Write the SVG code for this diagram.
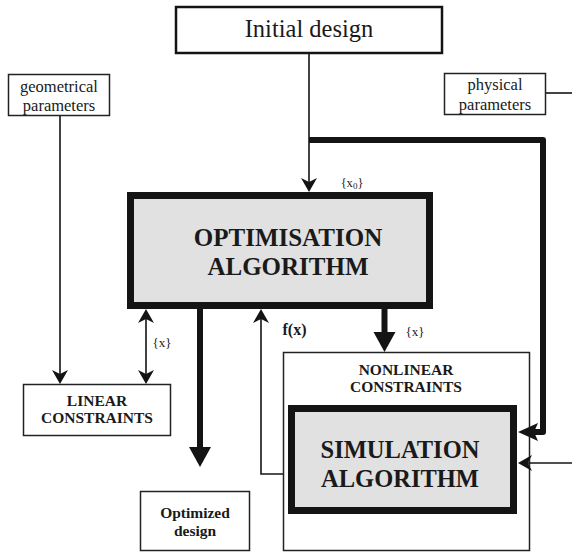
<svg xmlns="http://www.w3.org/2000/svg" width="572" height="552" viewBox="0 0 572 552" font-family="'Liberation Serif', 'DejaVu Serif', serif">
<style>
  .box{fill:#fff;stroke:#222;stroke-width:1.5}
  .big{fill:#e1e1e1;stroke:#141414;stroke-width:7}
  .thin{fill:none;stroke:#141414;stroke-width:1.6}
  .thick{fill:none;stroke:#141414;stroke-width:6;stroke-linejoin:round}
  text{font-family:'Liberation Serif','DejaVu Serif',serif;fill:#1a1a1a;text-anchor:middle}
  .b{font-weight:bold}
</style>
<defs>
  <marker id="ah" markerUnits="userSpaceOnUse" orient="auto-start-reverse" overflow="visible" markerWidth="20" markerHeight="20" refX="0" refY="0">
    <path d="M-4,-8 L10,0 L-4,8 L0,0 Z" fill="#141414"/>
  </marker>
  <marker id="tri" markerUnits="userSpaceOnUse" orient="auto" overflow="visible" markerWidth="30" markerHeight="30" refX="0" refY="0">
    <path d="M0,-11 L20,0 L0,11 Z" fill="#141414"/>
  </marker>
  <marker id="barb" markerUnits="userSpaceOnUse" orient="auto" overflow="visible" markerWidth="30" markerHeight="30" refX="0" refY="0">
    <path d="M-4,-9 L16,0 L-4,9 L0,0 Z" fill="#141414"/>
  </marker>
</defs>

<g id="initial-design">
  <rect x="176" y="7" width="266" height="46" fill="#fff" stroke="#141414" stroke-width="2.5"/>
  <text x="309" y="37" font-size="24.5">Initial design</text>
</g>

<g id="geometrical-parameters">
  <rect class="box" x="8.5" y="74.5" width="101" height="41"/>
  <text x="59" y="92" font-size="16.5">geometrical</text>
  <text x="59" y="111" font-size="16.5">parameters</text>
</g>

<g id="physical-parameters">
  <rect class="box" x="444.5" y="73.5" width="101" height="41"/>
  <text x="495" y="90" font-size="16.5">physical</text>
  <text x="495" y="110" font-size="16.5">parameters</text>
</g>

<g id="optimisation-algorithm">
  <rect class="big" x="130.5" y="195.5" width="299" height="110"/>
  <text class="b" x="288" y="246" font-size="25">OPTIMISATION</text>
  <text class="b" x="288" y="275" font-size="25">ALGORITHM</text>
</g>

<g id="labels">
  <text x="352" y="187" font-size="12.5">{x<tspan font-size="9" dy="2">0</tspan><tspan dy="-2">}</tspan></text>
  <text x="162" y="347" font-size="13">{x}</text>
  <text x="415" y="336" font-size="13">{x}</text>
  <text class="b" x="294.5" y="335" font-size="16">f(x)</text>
</g>

<g id="linear-constraints">
  <rect class="box" x="23.5" y="384.5" width="147" height="51"/>
  <text class="b" x="97" y="406" font-size="15.5">LINEAR</text>
  <text class="b" x="97" y="423" font-size="15.5">CONSTRAINTS</text>
</g>

<g id="nonlinear-constraints">
  <rect class="box" x="283.5" y="352.5" width="246" height="198"/>
  <text class="b" x="406" y="375" font-size="15.5">NONLINEAR</text>
  <text class="b" x="406" y="392" font-size="15.5">CONSTRAINTS</text>
</g>

<g id="simulation-algorithm">
  <rect class="big" x="291.5" y="408.5" width="222" height="102"/>
  <text class="b" x="400" y="458" font-size="24.5">SIMULATION</text>
  <text class="b" x="400" y="487" font-size="24.5">ALGORITHM</text>
</g>

<g id="optimized-design">
  <rect class="box" x="140.5" y="491.5" width="109" height="59"/>
  <text class="b" x="195" y="518" font-size="15.5">Optimized</text>
  <text class="b" x="195" y="536" font-size="15.5">design</text>
</g>

<g id="connectors">
  <path class="thin" d="M309,53 V182" marker-end="url(#ah)"/>
  <path class="thick" d="M309,140 H543 V432 H534" marker-end="url(#barb)"/>
  <path class="thin" d="M60,116 V374" marker-end="url(#ah)"/>
  <path class="thin" d="M146,319 V374" marker-start="url(#ah)" marker-end="url(#ah)"/>
  <path class="thick" d="M200,309 V447" marker-end="url(#tri)"/>
  <path class="thin" d="M283,474 H261 V319" marker-end="url(#ah)"/>
  <path class="thick" d="M384.5,309 V332" marker-end="url(#tri)"/>
  <path class="thin" d="M546,93 H572"/>
  <path class="thin" d="M572,463 H528" marker-end="url(#ah)"/>
</g>
</svg>
